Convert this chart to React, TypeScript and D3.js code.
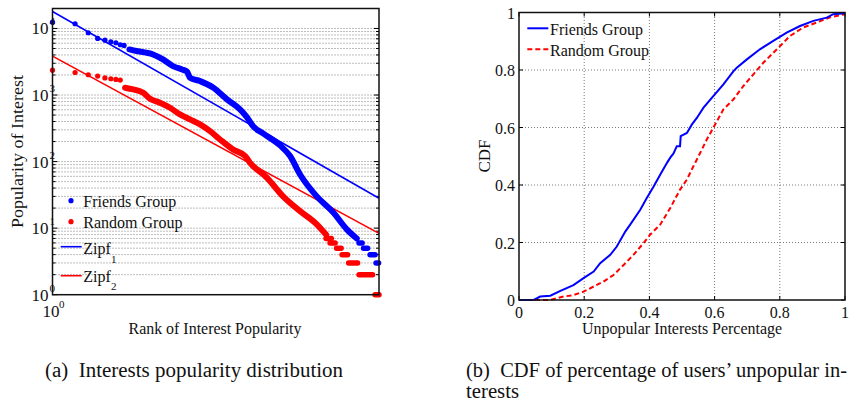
import React from 'react';
import * as d3 from 'd3';

// ---------- Left chart data: rank vs popularity ----------
const FRIENDS_HEAD_RANK = [1, 2, 3, 4, 5, 6, 7, 8, 9];
const FRIENDS_HEAD_POP = [12440, 11770, 8620, 7080, 6670, 6310, 6100, 5690, 5560];
const FRIENDS_BODY_RANK = [10.6, 12, 21.9, 29.7, 40.4, 53.3, 62, 68.1, 92.6, 138, 212, 316, 392, 471, 641, 1080, 1468, 1995, 3330, 5500, 8370, 11380];
const FRIENDS_BODY_POP = [4840, 4680, 4070, 3430, 2720, 2420, 2250, 1820, 1620, 1300, 860, 608, 461, 341, 265, 175, 121, 64, 30, 17.3, 9.6, 7];
// plateaus: [rankStart, rankEnd, value]
const FRIENDS_STEPS: [number, number, number][] = [[12200, 13400, 6], [14000, 15850, 5], [17100, 19950, 4], [20570, 22200, 3]];

const RANDOM_HEAD_RANK = [1, 2, 3, 4, 5, 6, 7, 8];
const RANDOM_HEAD_POP = [2365, 2180, 2017, 1923, 1806, 1757, 1714, 1675];
const RANDOM_BODY_RANK = [9.26, 11.9, 16.2, 20, 27.1, 36.9, 50, 68.1, 92.6, 126, 171, 255, 369, 430, 724, 1184, 1995, 3330, 4430];
const RANDOM_BODY_POP = [1288, 1215, 1083, 880, 766, 644, 511, 430, 362, 287, 215, 152, 121, 96, 57, 30, 18, 11.4, 8];
const RANDOM_STEPS: [number, number, number][] = [[4430, 5200, 7], [5010, 5850, 6], [6120, 7030, 5], [7245, 8580, 4], [8850, 11660, 3], [12200, 18500, 2], [19950, 22500, 1]];

// Zipf fits: popularity = C * rank^(-s)
const ZIPF1 = { C: 18000, s: 0.645 };
const ZIPF2 = { C: 3840, s: 0.612 };
const RANK_MAX = 22500;
const POP_DOMAIN = [1, 19953];
const POP_MAJOR = [0, 1, 2, 3, 4];

// ---------- Right chart data: CDF ----------
const FRIENDS_X = [0, 0.045, 0.065, 0.096, 0.127, 0.167, 0.198, 0.229, 0.249, 0.28, 0.3, 0.326, 0.341, 0.372, 0.392, 0.413, 0.433, 0.454, 0.464, 0.474, 0.484, 0.494, 0.496, 0.515, 0.53, 0.546, 0.566, 0.596, 0.627, 0.658, 0.668, 0.699, 0.739, 0.78, 0.821, 0.862, 0.903, 0.944, 0.964, 1];
const FRIENDS_CDF = [0, 0, 0.012, 0.015, 0.032, 0.052, 0.076, 0.099, 0.128, 0.157, 0.186, 0.238, 0.262, 0.314, 0.355, 0.395, 0.436, 0.477, 0.495, 0.51, 0.535, 0.535, 0.57, 0.581, 0.61, 0.634, 0.669, 0.709, 0.75, 0.796, 0.808, 0.837, 0.872, 0.901, 0.93, 0.953, 0.971, 0.982, 0.994, 0.997];
const RANDOM_X = [0, 0.096, 0.137, 0.167, 0.198, 0.229, 0.259, 0.29, 0.321, 0.351, 0.382, 0.402, 0.433, 0.464, 0.494, 0.515, 0.535, 0.556, 0.576, 0.596, 0.627, 0.658, 0.688, 0.719, 0.75, 0.791, 0.831, 0.872, 0.913, 0.954, 1];
const RANDOM_CDF = [0, 0, 0.012, 0.017, 0.029, 0.047, 0.064, 0.087, 0.122, 0.157, 0.198, 0.227, 0.262, 0.32, 0.384, 0.419, 0.465, 0.512, 0.558, 0.599, 0.663, 0.698, 0.744, 0.785, 0.826, 0.872, 0.918, 0.948, 0.965, 0.983, 0.994];
const CDF_TICKS = [0, 0.2, 0.4, 0.6, 0.8, 1];
const CDF_TICK_LABELS = ['0', '0.2', '0.4', '0.6', '0.8', '1'];

const FONT = 'Liberation Serif';
const BLUE = '#0000ff';
const RED = '#ff0000';
const GRID = '#7a7a7a';

function LeftChart() {
  const x = d3.scaleLog().domain([1, RANK_MAX]).range([52.5, 379]);
  const y = d3.scaleLog().domain(POP_DOMAIN).range([294.7, 8.5]);
  const [x0, x1] = x.range();
  const [yb, yt] = y.range();
  const minor: number[] = [];
  for (let d = 0; d < 5; d++) for (let m = 2; m <= 9; m++) {
    const v = m * Math.pow(10, d);
    if (v < POP_DOMAIN[1]) minor.push(v);
  }
  const body = d3.line<number>().x((i) => x(FRIENDS_BODY_RANK[i])).y((i) => y(FRIENDS_BODY_POP[i])).curve(d3.curveMonotoneX);
  const bodyR = d3.line<number>().x((i) => x(RANDOM_BODY_RANK[i])).y((i) => y(RANDOM_BODY_POP[i])).curve(d3.curveMonotoneX);
  const zipf = (z: { C: number; s: number }) => [1, RANK_MAX].map((r) => [x(r), y(z.C * Math.pow(r, -z.s))]);
  const z1 = zipf(ZIPF1);
  const z2 = zipf(ZIPF2);
  return (
    <g>
      {/* grid */}
      {[...minor, ...POP_MAJOR.slice(1).map((d) => Math.pow(10, d))].map((v, i) => (
        <line key={'g' + i} x1={x0} x2={x1} y1={y(v)} y2={y(v)} stroke={GRID} strokeWidth={1} strokeDasharray="1 2" />
      ))}
      {/* ticks */}
      {minor.map((v, i) => (
        <g key={'mt' + i}>
          <line x1={x0} x2={x0 + 3} y1={y(v)} y2={y(v)} stroke="#000" />
          <line x1={x1} x2={x1 - 3} y1={y(v)} y2={y(v)} stroke="#000" />
        </g>
      ))}
      {POP_MAJOR.map((d) => (
        <g key={'Mt' + d}>
          <line x1={x0} x2={x0 + 5} y1={y(Math.pow(10, d))} y2={y(Math.pow(10, d))} stroke="#000" />
          <line x1={x1} x2={x1 - 5} y1={y(Math.pow(10, d))} y2={y(Math.pow(10, d))} stroke="#000" />
        </g>
      ))}
      {/* Zipf lines */}
      <line x1={z1[0][0]} y1={z1[0][1]} x2={z1[1][0]} y2={z1[1][1]} stroke={BLUE} strokeWidth={1.6} />
      <line x1={z2[0][0]} y1={z2[0][1]} x2={z2[1][0]} y2={z2[1][1]} stroke={RED} strokeWidth={1.6} />
      {/* Friends */}
      {FRIENDS_HEAD_RANK.map((r, i) => (
        <circle key={'fh' + i} cx={x(r)} cy={y(FRIENDS_HEAD_POP[i])} r={2.6} fill={BLUE} />
      ))}
      <path d={body(d3.range(FRIENDS_BODY_RANK.length)) || ''} fill="none" stroke={BLUE} strokeWidth={6} strokeLinecap="round" strokeLinejoin="round" />
      {FRIENDS_STEPS.map(([a, b, v], i) => (
        <line key={'fs' + i} x1={x(a)} x2={x(b)} y1={y(v)} y2={y(v)} stroke={BLUE} strokeWidth={5.5} strokeLinecap="round" />
      ))}
      {/* Random */}
      {RANDOM_HEAD_RANK.map((r, i) => (
        <circle key={'rh' + i} cx={x(r)} cy={y(RANDOM_HEAD_POP[i])} r={2.6} fill={RED} />
      ))}
      <path d={bodyR(d3.range(RANDOM_BODY_RANK.length)) || ''} fill="none" stroke={RED} strokeWidth={6} strokeLinecap="round" strokeLinejoin="round" />
      {RANDOM_STEPS.map(([a, b, v], i) => (
        <line key={'rs' + i} x1={x(a)} x2={x(b)} y1={y(v)} y2={y(v)} stroke={RED} strokeWidth={5.5} strokeLinecap="round" />
      ))}
      {/* frame */}
      <rect x={x0} y={yt} width={x1 - x0} height={yb - yt} fill="none" stroke="#111" strokeWidth={1.5} />
      {/* y tick labels */}
      {POP_MAJOR.map((d) => (
        <g key={'yl' + d} fontFamily={FONT} fill="#111">
          <text x={48.5} y={y(Math.pow(10, d)) + 6} fontSize={17} textAnchor="end">10</text>
          <text x={49.5} y={y(Math.pow(10, d)) - 3} fontSize={11}>{d}</text>
        </g>
      ))}
      {/* x tick label */}
      <g fontFamily={FONT} fill="#111">
        <text x={51} y={316.7} fontSize={17} textAnchor="middle">10</text>
        <text x={59} y={308} fontSize={11}>0</text>
      </g>
      {/* legend */}
      <g fontFamily={FONT} fontSize={16} fill="#111">
        <circle cx={71} cy={200.7} r={2.6} fill={BLUE} />
        <text x={83.3} y={207.3}>Friends Group</text>
        <circle cx={71} cy={221.7} r={2.6} fill={RED} />
        <text x={83.3} y={227.5}>Random Group</text>
        <line x1={60.7} x2={81.7} y1={246.7} y2={246.7} stroke={BLUE} strokeWidth={1.6} />
        <text x={83.3} y={254}>Zipf</text>
        <text x={111} y={263.3} fontSize={11}>1</text>
        <line x1={60.7} x2={81.7} y1={275.7} y2={275.7} stroke={RED} strokeWidth={1.6} />
        <text x={83.3} y={281.5}>Zipf</text>
        <text x={111} y={290} fontSize={11}>2</text>
      </g>
      {/* axis labels */}
      <g fontFamily={FONT} fontSize={16} fill="#111">
        <text x={215} y={333.5} textAnchor="middle" textLength={173} lengthAdjust="spacingAndGlyphs">Rank of Interest Popularity</text>
        <text transform="translate(22.5,151.5) rotate(-90)" textAnchor="middle" textLength={153} lengthAdjust="spacingAndGlyphs">Popularity of Interest</text>
      </g>
    </g>
  );
}

function RightChart() {
  const x = d3.scaleLinear().domain([0, 1]).range([519, 845]);
  const y = d3.scaleLinear().domain([0, 1]).range([300, 12.5]);
  const [x0, x1] = x.range();
  const [yb, yt] = y.range();
  const lf = d3.line<number>().x((i) => x(FRIENDS_X[i])).y((i) => y(FRIENDS_CDF[i]));
  const lr = d3.line<number>().x((i) => x(RANDOM_X[i])).y((i) => y(RANDOM_CDF[i]));
  const inner = CDF_TICKS.slice(1, -1);
  return (
    <g>
      {inner.map((t) => (
        <g key={'g' + t}>
          <line x1={x(t)} x2={x(t)} y1={yb} y2={yt} stroke={GRID} strokeDasharray="1 2" />
          <line x1={x0} x2={x1} y1={y(t)} y2={y(t)} stroke={GRID} strokeDasharray="1 2" />
        </g>
      ))}
      {CDF_TICKS.map((t) => (
        <g key={'t' + t} stroke="#000">
          <line x1={x(t)} x2={x(t)} y1={yb} y2={yb - 4} />
          <line x1={x(t)} x2={x(t)} y1={yt} y2={yt + 4} />
          <line x1={x0} x2={x0 + 4} y1={y(t)} y2={y(t)} />
          <line x1={x1} x2={x1 - 4} y1={y(t)} y2={y(t)} />
        </g>
      ))}
      <path d={lr(d3.range(RANDOM_X.length)) || ''} fill="none" stroke={RED} strokeWidth={2} strokeDasharray="5 3" />
      <path d={lf(d3.range(FRIENDS_X.length)) || ''} fill="none" stroke={BLUE} strokeWidth={2} />
      <rect x={x0} y={yt} width={x1 - x0} height={yb - yt} fill="none" stroke="#111" strokeWidth={1.5} />
      <g fontFamily={FONT} fontSize={16} fill="#111">
        {CDF_TICKS.map((t, i) => (
          <text key={'xl' + t} x={x(t)} y={318} textAnchor="middle">{CDF_TICK_LABELS[i]}</text>
        ))}
        {CDF_TICKS.map((t, i) => (
          <text key={'yl' + t} x={515} y={y(t) + 6} textAnchor="end">{CDF_TICK_LABELS[i]}</text>
        ))}
        <line x1={527.3} x2={548.3} y1={28.3} y2={28.3} stroke={BLUE} strokeWidth={2} />
        <text x={550} y={35}>Friends Group</text>
        <line x1={527.3} x2={548.3} y1={49.3} y2={49.3} stroke={RED} strokeWidth={2} strokeDasharray="5 3" />
        <text x={550} y={56}>Random Group</text>
        <text x={682} y={334} textAnchor="middle" textLength={200} lengthAdjust="spacingAndGlyphs">Unpopular Interests Percentage</text>
        <text transform="translate(490,156) rotate(-90)" textAnchor="middle" fontSize={17}>CDF</text>
      </g>
    </g>
  );
}

export default function App() {
  return (
    <svg width={861} height={405} style={{ position: 'absolute', left: 0, top: 0, background: '#fff' }}>
      <rect width={861} height={405} fill="#fff" />
      <LeftChart />
      <RightChart />
      <g fontFamily={FONT} fontSize={20} fill="#111">
        <text x={45} y={376.7} textLength={298} lengthAdjust="spacingAndGlyphs" xmlSpace="preserve">(a)  Interests popularity distribution</text>
        <text x={466} y={376.7} textLength={381} lengthAdjust="spacingAndGlyphs" xmlSpace="preserve">(b)  CDF of percentage of users’ unpopular in-</text>
        <text x={466} y={398} textLength={53} lengthAdjust="spacingAndGlyphs">terests</text>
      </g>
    </svg>
  );
}
